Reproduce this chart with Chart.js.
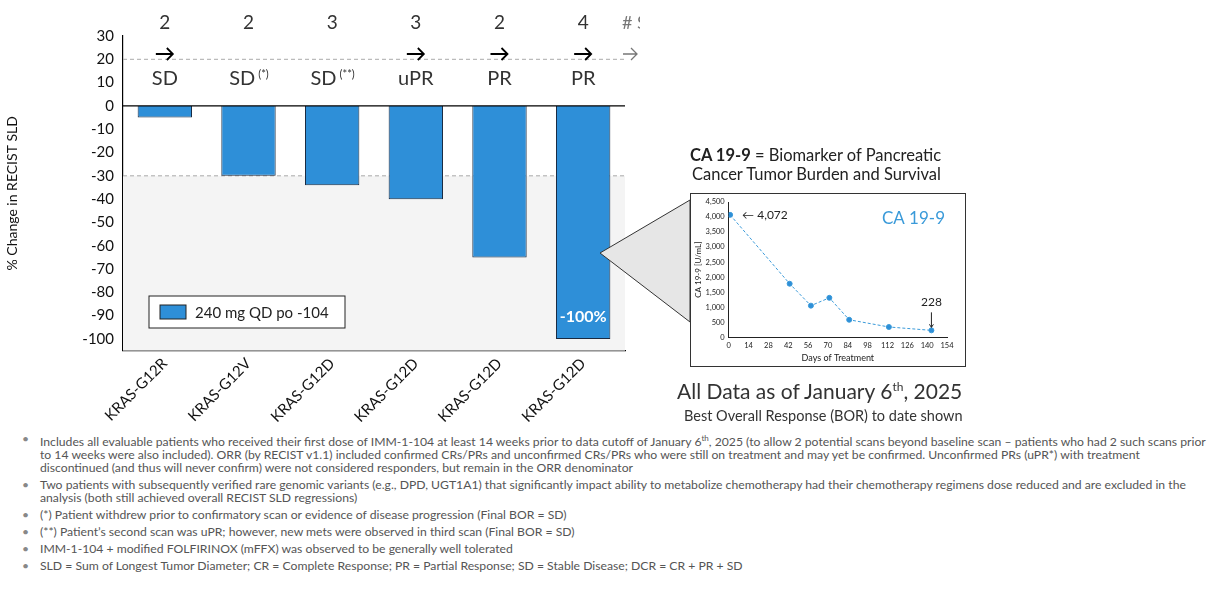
<!DOCTYPE html>
<html><head><meta charset="utf-8">
<script src="https://cdn.jsdelivr.net/npm/chart.js@4.4.1/dist/chart.umd.min.js"></script>
<style>
body{margin:0;width:1231px;height:602px;background:#fff;font-family:Lato,"Open Sans",sans-serif;position:relative;overflow:hidden;color:#222}
#main{position:absolute;left:0;top:0}
#insetBox{position:absolute;left:690px;top:193px;width:274px;height:172px;border:1.5px solid #333;background:#fff}
#inset{position:absolute;left:0;top:0}
.t{position:absolute;white-space:nowrap}
ul{position:absolute;left:22px;top:432px;margin:0;padding:0 0 0 18px;width:1170px;font-size:12.2px;line-height:13px;color:#555;list-style:none}
li{position:relative;margin-bottom:4px}
li:before{content:"•";position:absolute;left:-18px;color:#888}
</style></head><body>
<canvas id="main" width="640" height="430" style="width:640px;height:430px"></canvas>
<svg style="position:absolute;left:0;top:0" width="700" height="400"><polygon points="600,253 690,200 690,322" fill="#e6e6e6" stroke="#333" stroke-width="1"/></svg>
<div class="t" style="left:690px;top:145px;font-size:16.5px"><b>CA 19-9</b> = Biomarker of Pancreatic</div>
<div class="t" style="left:692px;top:164px;font-size:16.5px">Cancer Tumor Burden and Survival</div>
<div id="insetBox"><canvas id="inset" width="274" height="172" style="width:274px;height:172px"></canvas></div>
<div class="t" style="left:677px;top:378px;font-size:21px;color:#333">All Data as of January 6<sup style="font-size:12px">th</sup>, 2025</div>
<div class="t" style="left:684px;top:407px;font-size:14.5px;color:#333">Best Overall Response (BOR) to date shown</div>
<ul>
<li>Includes all evaluable patients who received their first dose of IMM-1-104 at least 14 weeks prior to data cutoff of January 6<sup style="font-size:8px">th</sup>, 2025 (to allow 2 potential scans beyond baseline scan – patients who had 2 such scans prior to 14 weeks were also included). ORR (by RECIST v1.1) included confirmed CRs/PRs and unconfirmed CRs/PRs who were still on treatment and may yet be confirmed. Unconfirmed PRs (uPR*) with treatment discontinued (and thus will never confirm) were not considered responders, but remain in the ORR denominator</li>
<li>Two patients with subsequently verified rare genomic variants (e.g., DPD, UGT1A1) that significantly impact ability to metabolize chemotherapy had their chemotherapy regimens dose reduced and are excluded in the analysis (both still achieved overall RECIST SLD regressions)</li>
<li>(*) Patient withdrew prior to confirmatory scan or evidence of disease progression (Final BOR = SD)</li>
<li>(**) Patient’s second scan was uPR; however, new mets were observed in third scan (Final BOR = SD)</li>
<li>IMM-1-104 + modified FOLFIRINOX (mFFX) was observed to be generally well tolerated</li>
<li>SLD = Sum of Longest Tumor Diameter; CR = Complete Response; PR = Partial Response; SD = Stable Disease; DCR = CR + PR + SD</li>
</ul>
<script>
const categories=["KRAS-G12R","KRAS-G12V","KRAS-G12D","KRAS-G12D","KRAS-G12D","KRAS-G12D"];
const changes=[-5,-30,-34,-40,-65,-100];
const scans=["2","2","3","3","2","4"];
const onTreatment=[true,false,false,true,true,true];
const responses=["SD","SD","SD","uPR","PR","PR"];
const responseMarks=["","(*)","(**)","","",""];
const yTicks=[30,20,10,0,-10,-20,-30,-40,-50,-60,-70,-80,-90,-100];
const caDays=[1,43,58,71,85,113,143];
const caValues=[4072,1780,1050,1310,580,340,228];

const F='Lato,"Open Sans",sans-serif';
const deco={id:'deco',
beforeDatasetsDraw(c){const{ctx,chartArea:a,scales:{x,y}}=c;ctx.save();
 ctx.fillStyle='#f4f4f4';ctx.fillRect(a.left,y.getPixelForValue(-30),a.right-a.left,a.bottom-y.getPixelForValue(-30));
 ctx.strokeStyle='#aaa';ctx.setLineDash([4,3]);ctx.lineWidth=1;
 [20,-30].forEach(v=>{const p=y.getPixelForValue(v);ctx.beginPath();ctx.moveTo(a.left,p);ctx.lineTo(a.right,p);ctx.stroke();});
 ctx.restore();},
afterDatasetsDraw(c){const{ctx,chartArea:a,scales:{x,y}}=c;ctx.save();
 ctx.strokeStyle='#000';ctx.lineWidth=1.2;const z=y.getPixelForValue(0);ctx.beginPath();ctx.moveTo(a.left,z);ctx.lineTo(a.right,z);ctx.stroke();
 ctx.textAlign='center';ctx.textBaseline='middle';ctx.fillStyle='#333';
 categories.forEach((_,i)=>{const px=x.getPixelForValue(i);
  ctx.font='19px '+F;ctx.fillText(scans[i],px,23);
  if(onTreatment[i]){ctx.beginPath();ctx.lineWidth=1.8;ctx.moveTo(px-9,54);ctx.lineTo(px+8,54);ctx.moveTo(px+2,48);ctx.lineTo(px+8,54);ctx.lineTo(px+2,60);ctx.stroke();}
  ctx.font='20px '+F;const w=ctx.measureText(responses[i]).width;
  if(responseMarks[i]){ctx.font='11px '+F;const w2=ctx.measureText(responseMarks[i]).width;ctx.font='20px '+F;ctx.fillText(responses[i],px-w2/2-1,79);ctx.font='11px '+F;ctx.fillText(responseMarks[i],px+w/2+2,74);}
  else ctx.fillText(responses[i],px,79);
 });
 ctx.textAlign='left';ctx.font='18px '+F;ctx.fillStyle='#777';ctx.fillText('# Scans',622,23);
 ctx.strokeStyle='#777';ctx.lineWidth=1.3;ctx.beginPath();ctx.moveTo(623,54);ctx.lineTo(637,54);ctx.moveTo(631,48);ctx.lineTo(637,54);ctx.lineTo(631,60);ctx.stroke();
 ctx.fillText('= On Treatment',643,55);
 // legend box
 ctx.fillStyle='#fff';ctx.strokeStyle='#222';ctx.lineWidth=1;ctx.fillRect(149,296,196,32);ctx.strokeRect(149,296,196,32);
 ctx.fillStyle='#2e8fd8';ctx.fillRect(160,305,26,14);ctx.strokeRect(160,305,26,14);
 ctx.fillStyle='#222';ctx.font='15px '+F;ctx.fillText('240 mg QD po -104',195,313);
 const lp=x.getPixelForValue(5);ctx.fillStyle='#fff';ctx.font='bold 16px '+F;ctx.textAlign='center';ctx.fillText('-100%',lp,317);
 ctx.restore();}};
new Chart(document.getElementById('main'),{type:'bar',
data:{labels:categories,datasets:[{data:changes,backgroundColor:'#2e8fd8',borderColor:'#1a2a40',borderWidth:1,barPercentage:0.65,categoryPercentage:1}]},
options:{responsive:false,animation:false,layout:{padding:{top:36,right:15}},
plugins:{legend:{display:false},tooltip:{enabled:false}},
scales:{x:{grid:{display:false,drawTicks:false},border:{color:'#000',width:1.2},ticks:{color:'#111',font:{size:15,family:F},maxRotation:45,minRotation:45,padding:4}},
y:{min:-105,max:30,afterBuildTicks(ax){ax.ticks=yTicks.map(v=>({value:v}));},afterFit(ax){ax.width=123;},
grid:{display:false,drawTicks:true,tickLength:6,tickColor:'#000'},border:{color:'#000',width:1.2},
ticks:{color:'#111',font:{size:15,family:F},padding:3},
title:{display:true,text:'% Change in RECIST SLD',color:'#111',font:{size:14,family:F},padding:{bottom:6}}}}},
plugins:[deco]});

const insetDeco={id:'id',afterDatasetsDraw(c){const{ctx,scales:{x,y}}=c;ctx.save();
 ctx.fillStyle='#3a9ad9';ctx.font='17px '+F;ctx.textAlign='right';ctx.fillText('CA 19-9',c.chartArea.right-2,30);
 ctx.fillStyle='#222';ctx.font='12px '+F;ctx.textAlign='left';
 const px=x.getPixelForValue(caDays[0]),py=y.getPixelForValue(caValues[0]);ctx.fillText('← 4,072',px+12,py+4);
 const qx=x.getPixelForValue(caDays[6]),qy=y.getPixelForValue(caValues[6]);ctx.textAlign='center';ctx.fillText('228',qx,qy-24);
 ctx.strokeStyle='#222';ctx.lineWidth=1;ctx.beginPath();ctx.moveTo(qx,qy-18);ctx.lineTo(qx,qy-3);ctx.moveTo(qx-2,qy-6);ctx.lineTo(qx,qy-3);ctx.lineTo(qx+2,qy-6);ctx.stroke();
 ctx.restore();}};
new Chart(document.getElementById('inset'),{type:'scatter',
data:{datasets:[{data:caDays.map((d,i)=>({x:d,y:caValues[i]})),showLine:true,borderColor:'#3a9ad9',borderDash:[3,2],borderWidth:1,backgroundColor:'#2e8fd8',pointRadius:2.5}]},
options:{responsive:false,animation:false,layout:{padding:{top:8,right:18,left:2,bottom:2}},plugins:{legend:{display:false},tooltip:{enabled:false}},
scales:{x:{min:0,max:154,ticks:{stepSize:14,color:'#222',font:{size:7.5,family:F},padding:1,maxRotation:0},grid:{display:false,drawTicks:true,tickLength:3,tickColor:'#222'},border:{color:'#222'},
title:{display:true,text:'Days of Treatment',color:'#222',font:{size:9,family:F},padding:1}},
y:{min:0,max:4500,ticks:{stepSize:500,color:'#222',font:{size:7.5,family:F},padding:1},grid:{display:false,drawTicks:true,tickLength:3,tickColor:'#222'},border:{color:'#222'},
title:{display:true,text:'CA 19-9 [U/mL]',color:'#222',font:{size:8,family:F},padding:1}}}},plugins:[insetDeco]});
</script></body></html>
